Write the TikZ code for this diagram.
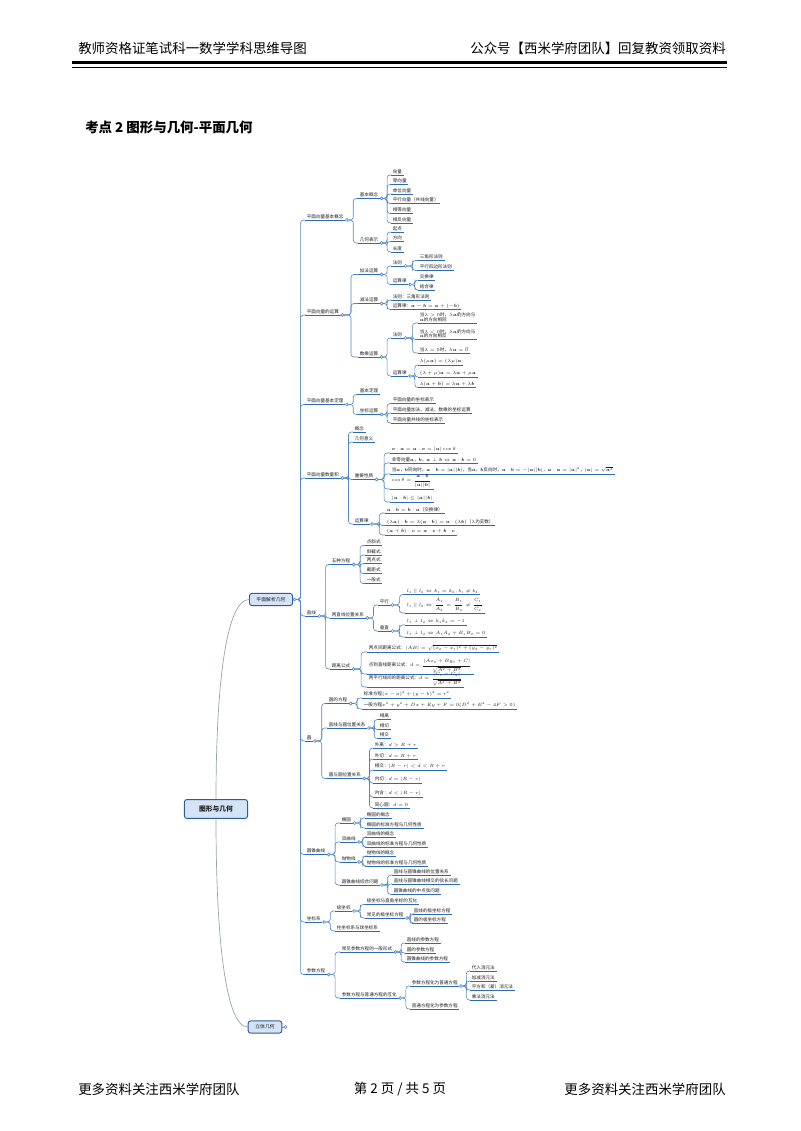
\RequirePackage{fix-cm}
\documentclass[tikz,border=0pt]{standalone}
\usepackage{amsmath}
\usepackage[no-math]{fontspec}
\setmainfont{Noto Sans CJK SC}
\usepackage{tikz}
\usetikzlibrary{calc}
\definecolor{linkblue}{RGB}{84,136,196}
\definecolor{ulblue}{RGB}{44,106,182}
\definecolor{boxedge}{RGB}{45,92,158}
\definecolor{boxfill}{RGB}{212,227,245}
\definecolor{inkgrey}{RGB}{30,30,30}
\definecolor{rootline}{RGB}{150,160,172}
\tikzset{
  topic/.style={anchor=south west, align=left, font=\fontsize{3.4}{3.6}\selectfont, text=inkgrey, inner xsep=1.4pt, inner ysep=0.9pt, outer sep=0pt},
  uline/.style={draw=ulblue, line width=0.55pt},
  link/.style={draw=linkblue, line width=0.45pt, rounded corners=2.2pt},
  trunk/.style={draw=rootline, line width=0.5pt},
  box/.style={rectangle, rounded corners=1.8pt, draw=boxedge, fill=boxfill, line width=0.7pt, font=\fontsize{3.6}{4}\selectfont, inner sep=1pt, text=inkgrey},
  head/.style={font=\fontsize{10}{12}\selectfont, inner sep=0pt},
}
\newcommand{\bv}[1]{\boldsymbol{#1}}
% children of one topic: start point, x of the children, list name/underline y/text
\newcommand{\kids}[3]{%
  \path ($(#1)+(3.2,0)$) coordinate (from);
  \foreach \n/\y/\t in {#3}{
    \node[topic] (\n) at (#2,\y) {\t};
    \draw[uline] (\n.south west) -- (\n.south east);
    \draw[link] (from) -| ($(from)!0.5!(#2,\y)$) |- (\n.south west);
  }
  \draw[link,fill=white] ($(#1)+(1.6,0)$) circle[radius=1.1pt];
}

\begin{document}
\begin{tikzpicture}[x=0.744pt,y=-0.744pt]
  \fill[white] (0,0) rectangle (800,1131);
  \useasboundingbox (0,0) rectangle (800,1131);
  % header
  \node[head,anchor=west] (hl) at (78,48) {教师资格证笔试科一数学学科思维导图};
  \node[head,anchor=east] (hr) at (726,48) {公众号【西米学府团队】回复教资领取资料};
  \draw[line width=1.7pt] (72,62.5) -- (727,62.5);
  \draw[line width=0.6pt] (72,67) -- (727,67);
  \node[head,anchor=west,font=\fontsize{10}{12}\selectfont\bfseries] (title) at (85,127) {考点 2 图形与几何-平面几何};
  % main boxes
  \node[box,font=\fontsize{5}{6}\selectfont\bfseries,minimum width=47pt,minimum height=14pt] (root) at (216,809) {图形与几何};
  \node[box,minimum width=32pt,minimum height=9pt] (pjx) at (271,599.5) {平面解析几何};
  \node[box,minimum width=25pt,minimum height=9pt] (ljx) at (265,1027) {立体几何};
  \draw[trunk] (root.north) .. controls +(0,-120) and +(-22,0) .. (pjx.west);
  \draw[trunk] (root.south) .. controls +(0,120) and +(-22,0) .. (ljx.west);
  \draw[link] (ljx.east) -- ++(2,0);
  \draw[link,fill=white] ($(ljx.east)+(3.2,0)$) circle[radius=1.1pt];
  % level 1
  \kids{pjx.east}{305}{vb/220/平面向量基本概念, vy/315/平面向量的运算, vd/404.5/平面向量基本定理, vs/478/平面向量数量积,
    zx/616/直线, yu/741/圆, zq/854.5/圆锥曲线, zb/922/坐标系, cs/974.5/参数方程}
  % vectors
  \kids{vb.south east}{358}{vbg/198.5/基本概念, vbj/243/几何表示}
  \kids{vbg.south east}{391}{a1/175/向量, a2/184.5/零向量, a3/194/单位向量, a4/203.5/平行向量（共线向量）, a5/213.5/相等向量, a6/223/相反向量}
  \kids{vbj.south east}{391}{b1/232/起点, b2/241.5/方向, b3/252/长度}
  \kids{vy.south east}{358}{jia/274.5/加法运算, jian/303.5/减法运算, sc/357/数乘运算}
  \kids{jia.south east}{391}{jiaf/266/法则, jial/284.5/运算律}
  \kids{jiaf.south east}{418}{c1/260.5/三角形法则, c2/270.5/平行四边形法则}
  \kids{jial.south east}{418}{c3/280/交换律, c4/290/结合律}
  \kids{jian.south east}{391}{d1/300/法则：三角形法则, d2/309.5/{运算律：$\bv a-\bv b=\bv a+(-\bv b)$}}
  \kids{sc.south east}{391}{scf/338/法则, scl/376/运算律}
  \kids{scf.south east}{418}{e1/323/{当$\lambda>0$时，$\lambda\bv a$的方向与\\$\bv a$的方向相同},
    e2/339.5/{当$\lambda<0$时，$\lambda\bv a$的方向与\\$\bv a$的方向相反}, e3/353/{当$\lambda=0$时，$\lambda\bv a=\vec 0$}}
  \kids{scl.south east}{418}{e4/365/{$\lambda(\mu\bv a)=(\lambda\mu)\bv a$}, e5/377/{$(\lambda+\mu)\bv a=\lambda\bv a+\mu\bv a$},
    e6/387.5/{$\lambda(\bv a+\bv b)=\lambda\bv a+\lambda\bv b$}}
  \kids{vd.south east}{358}{dl/394.5/基本定理, zbys/414.5/坐标运算}
  \kids{zbys.south east}{391}{f1/403.5/平面向量的坐标表示, f2/413/平面向量加法、减法、数乘的坐标运算, f3/423/平面向量共线的坐标表示}
  \kids{vs.south east}{353}{gn/432/概念, jh/442/几何意义, xz/479.5/重要性质, yl/524/运算律}
  \kids{xz.south east}{390}{g1/453/{$\bv e\cdot\bv a=\bv a\cdot\bv e=|\bv a|\cos\theta$},
    g2/463/{非零向量$\bv a$，$\bv b$，$\bv a\perp\bv b\Leftrightarrow\bv a\cdot\bv b=0$},
    g3/474/{当$\bv a$，$\bv b$同向时，$\bv a\cdot\bv b=|\bv a||\bv b|$，当$\bv a$，$\bv b$反向时，$\bv a\cdot\bv b=-|\bv a||\bv b|$，$\bv a\cdot\bv a=|\bv a|^2$，$|\bv a|=\sqrt{\bv a^2}$},
    g4/489/{$\cos\theta=\dfrac{\bv a\cdot\bv b}{|\bv a||\bv b|}$}, g5/502/{$|\bv a\cdot\bv b|\le|\bv a||\bv b|$}}
  \kids{yl.south east}{385}{h1/513/{$\bv a\cdot\bv b=\bv b\cdot\bv a$（交换律）},
    h2/525.5/{$(\lambda\bv a)\cdot\bv b=\lambda(\bv a\cdot\bv b)=\bv a\cdot(\lambda\bv b)$（$\lambda$为实数）},
    h3/535/{$(\bv a+\bv b)\cdot\bv c=\bv a\cdot\bv c+\bv b\cdot\bv c$}}
  % lines
  \kids{zx.south east}{330}{wz/564.5/五种方程, wzgx/618/两直线位置关系, jlgs/669/距离公式}
  \kids{wz.south east}{365}{i1/545.5/点斜式, i2/555/斜截式, i3/563.5/两点式, i4/573.5/截距式, i5/583.5/一般式}
  \kids{wzgx.south east}{378}{pxg/605/平行, czg/631/垂直}
  \kids{pxg.south east}{405}{j1/594.5/{$l_1\parallel l_2\Leftrightarrow k_1=k_2,b_1\ne b_2$},
    j2/613/{$l_1\parallel l_2\Leftrightarrow\dfrac{A_1}{A_2}=\dfrac{B_1}{B_2}\ne\dfrac{C_1}{C_2}$}}
  \kids{czg.south east}{405}{j3/625/{$l_1\perp l_2\Leftrightarrow k_1k_2=-1$}, j4/637/{$l_1\perp l_2\Leftrightarrow A_1A_2+B_1B_2=0$}}
  \kids{jlgs.south east}{367}{k1/652/{两点间距离公式：$|AB|=\sqrt{(x_2-x_1)^2+(y_2-y_1)^2}$},
    k2/674/{点到直线距离公式：$d=\dfrac{|Ax_0+By_0+C|}{\sqrt{A^2+B^2}}$},
    k3/687/{两平行线间的距离公式：$d=\dfrac{|C_1-C_2|}{\sqrt{A^2+B^2}}$}}
  % circles
  \kids{yu.south east}{327}{yfc/703.5/圆的方程, zxy/728/直线与圆位置关系, yyw/778.5/圆与圆位置关系}
  \kids{yfc.south east}{362}{l1/698/{标准方程$(x-a)^2+(y-b)^2=r^2$}, l2/709/{一般方程$x^2+y^2+Dx+Ey+F=0(D^2+E^2-4F>0)$}}
  \kids{zxy.south east}{378}{m1/719.5/相离, m2/729.5/相切, m3/738.5/相交}
  \kids{yyw.south east}{373}{n1/748/{外离：$d>R+r$}, n2/759/{外切：$d=R+r$}, n3/770/{相交：$|R-r|<d<R+r$},
    n4/783/{内切：$d=|R-r|$}, n5/797/{内含：$d<|R-r|$}, n6/808/{同心圆：$d=0$}}
  % conics
  \kids{zq.south east}{340}{ty/823/椭圆, sqx/842/双曲线, pwx/862/抛物线, zhw/885/圆锥曲线综合问题}
  \kids{ty.south east}{365}{o1/818/椭圆的概念, o2/828/椭圆的标准方程与几何性质}
  \kids{sqx.south east}{365}{o3/837/双曲线的概念, o4/847/双曲线的标准方程与几何性质}
  \kids{pwx.south east}{365}{o5/856/抛物线的概念, o6/866/抛物线的标准方程与几何性质}
  \kids{zhw.south east}{392}{p1/875/直线与圆锥曲线的位置关系, p2/884/直线与圆锥曲线相交的弦长问题, p3/894.5/圆锥曲线的中点弦问题}
  % coordinates and parameters
  \kids{zb.south east}{335}{jzb/911/极坐标, zqz/931/柱坐标系与球坐标系}
  \kids{jzb.south east}{365}{q1/904.5/极坐标与直角坐标的互化, q2/918/常见的极坐标方程}
  \kids{q2.south east}{412}{r1/914/直线的极坐标方程, r2/923/圆的极坐标方程}
  \kids{cs.south east}{340}{cjcs/952/常见参数方程的一般形式, hh/998/参数方程与普通方程的互化}
  \kids{cjcs.south east}{405}{s1/943/直线的参数方程, s2/953/圆的参数方程, s3/962/圆锥曲线的参数方程}
  \kids{hh.south east}{410}{hp/986/参数方程化为普通方程, hpc/1009/普通方程化为参数方程}
  \kids{hp.south east}{470}{t1/971/代入消元法, t2/981/加减消元法, t3/990/平方和（差）消元法, t4/1000/乘法消元法}
  % footer
  \node[head,anchor=west] (fl) at (78,1089) {更多资料关注西米学府团队};
  \node[head] (fc) at (400,1089) {第 2 页 / 共 5 页};
  \node[head,anchor=east] (fr) at (726,1089) {更多资料关注西米学府团队};
\end{tikzpicture}
\end{document}
